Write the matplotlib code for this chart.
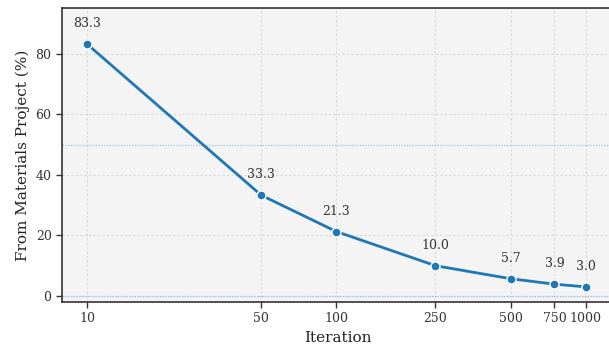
import matplotlib.pyplot as plt
from matplotlib.ticker import NullLocator

iterations = [10, 50, 100, 250, 500, 750, 1000]
pct_mp = [83.3, 33.3, 21.3, 10.0, 5.7, 3.9, 3.0]
tick_labels = ['10', '50', '100', '250', '500', '750', '1000']

plt.rcParams['font.family'] = 'DejaVu Serif'

fig = plt.figure(figsize=(6.09, 3.49), dpi=100)
ax = fig.add_axes([62 / 609, 47 / 349, 552 / 609, 294 / 349])
ax.set_facecolor('#f4f4f4')

ax.grid(True, linestyle=(0, (2, 2)), color='#d8d8d8', linewidth=0.8)
ax.set_axisbelow(True)
ax.axhline(50, color='#a9c6de', linestyle=(0, (1, 1)), linewidth=1, zorder=1)
ax.axhline(0, color='#a9c6de', linestyle=(0, (1, 1)), linewidth=1, zorder=1)

ax.plot(iterations, pct_mp, color='#1f77b4', linewidth=2, marker='o',
        markersize=6.5, markeredgecolor='white', markeredgewidth=1, zorder=3)

for x, y in zip(iterations, pct_mp):
    ax.annotate(f'{y:.1f}', (x, y), xytext=(0, 10), textcoords='offset points',
                ha='center', va='bottom', fontsize=9, color='#333333')

ax.set_xscale('log')
ax.set_xlim(7.94, 1300)
ax.set_ylim(-2, 95.2)
ax.set_xticks(iterations)
ax.set_xticklabels(tick_labels)
ax.xaxis.set_minor_locator(NullLocator())
ax.set_yticks([0, 20, 40, 60, 80])
ax.tick_params(labelsize=9, colors='#333333', length=4, width=1)

for s in ax.spines.values():
    s.set_color('#333333')
    s.set_linewidth(1.2)

ax.set_xlabel('Iteration', fontsize=11, color='#222222')
ax.set_ylabel('From Materials Project (%)', fontsize=11, color='#222222')

fig.savefig('out.png', dpi=100)
